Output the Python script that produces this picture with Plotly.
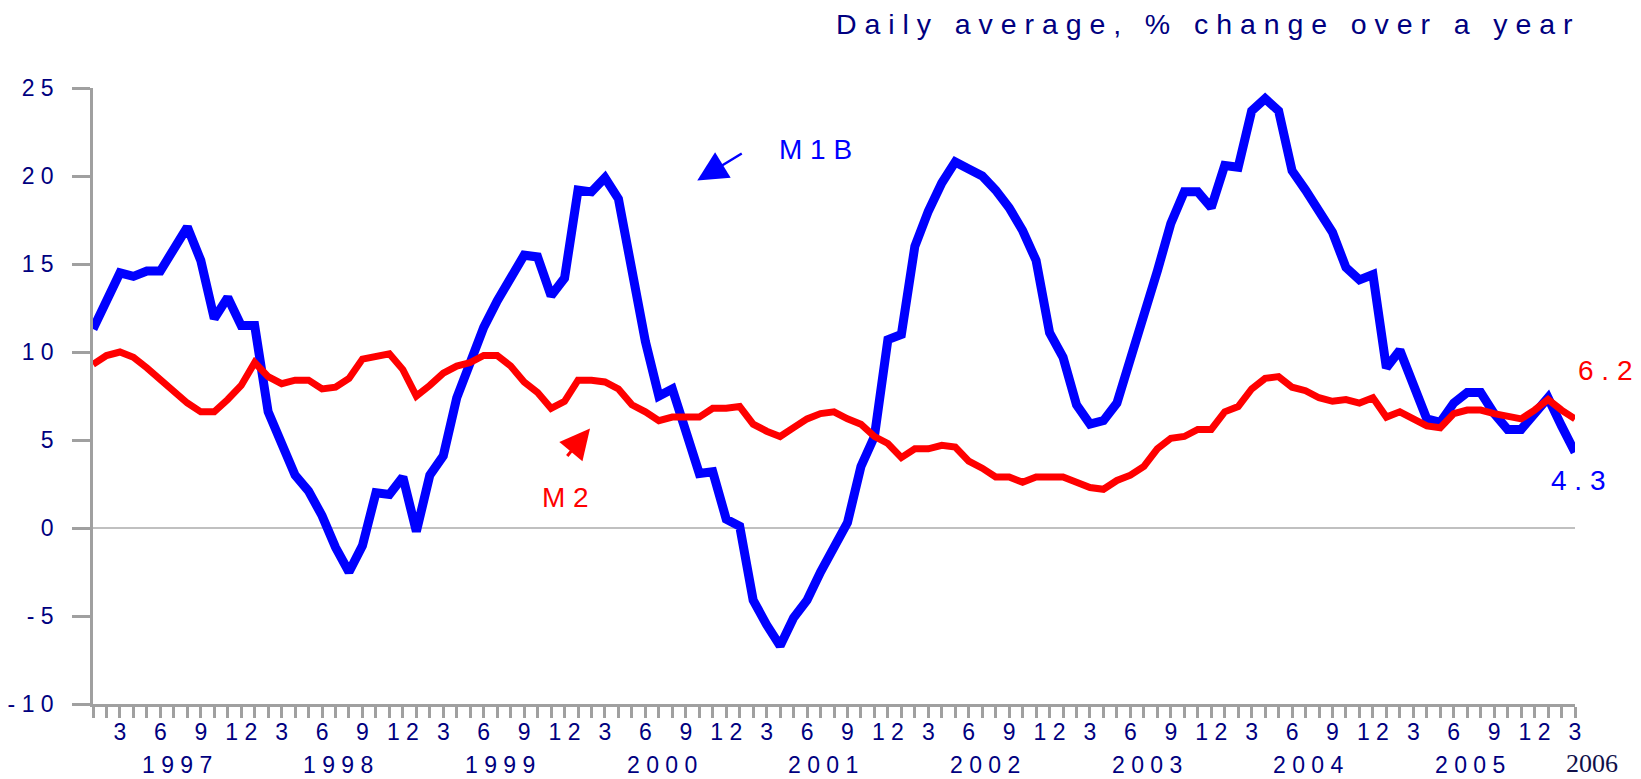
import plotly.graph_objects as go

NB = "\u00a0"


def spaced(s):
    return NB.join(NB if ch == " " else ch for ch in s)


# Monthly data, Jan 1997 .. Mar 2006 (index 0 = Jan 1997)
months = list(range(111))

m1b = [
    11.3, 12.9, 14.5, 14.3, 14.6, 14.6, 15.9, 17.1, 15.2, 11.9, 13.1, 11.5,   # 1997
    11.5, 6.6, 4.8, 3.0, 2.1, 0.7, -1.1, -2.5, -1.0, 2.0, 1.9, 2.9,           # 1998
    -0.2, 3.0, 4.1, 7.4, 9.4, 11.4, 12.9, 14.2, 15.5, 15.4, 13.2, 14.2,      # 1999
    19.2, 19.1, 19.9, 18.7, 14.4, 10.6, 7.5, 7.9, 5.5, 3.1, 3.2, 0.5,        # 2000
    0.1, -4.1, -5.5, -6.7, -5.1, -4.1, -2.5, -1.2, 0.3, 3.5, 5.2, 10.7,      # 2001
    11.0, 16.0, 18.0, 19.6, 20.8, 20.4, 20.0, 19.2, 18.2, 16.9, 15.2, 11.1,  # 2002
    9.7, 7.0, 5.9, 6.1, 7.1, 9.6, 12.0, 14.6, 17.3, 19.1, 19.1, 18.2,        # 2003
    20.6, 20.5, 23.7, 24.4, 23.7, 20.3, 19.2, 18.1, 16.8, 14.8, 14.1, 14.4,  # 2004
    9.1, 10.1, 8.1, 6.2, 6.0, 7.1, 7.7, 7.7, 6.5, 5.6, 5.6, 6.6,             # 2005
    7.4, 5.8, 4.3,                                                           # 2006
]

m2 = [
    9.3, 9.8, 10.0, 9.7, 9.1, 8.4, 7.7, 7.1, 6.6, 6.6, 7.3, 8.1,             # 1997
    9.4, 8.6, 8.2, 8.4, 8.4, 7.9, 8.0, 8.5, 9.6, 9.7, 9.9, 9.0,              # 1998
    7.5, 8.1, 8.8, 9.2, 9.4, 9.8, 9.8, 9.2, 8.3, 7.7, 6.8, 7.2,              # 1999
    8.4, 8.4, 8.3, 7.9, 7.0, 6.6, 6.1, 6.3, 6.3, 6.3, 6.8, 6.8,              # 2000
    6.9, 5.9, 5.5, 5.2, 5.7, 6.2, 6.5, 6.6, 6.2, 5.9, 5.2, 4.8,              # 2001
    4.0, 4.5, 4.5, 4.7, 4.6, 3.8, 3.4, 2.9, 2.9, 2.6, 2.9, 2.9,              # 2002
    2.9, 2.6, 2.3, 2.2, 2.7, 3.0, 3.5, 4.5, 5.1, 5.2, 5.6, 5.6,              # 2003
    6.6, 6.9, 7.9, 8.5, 8.6, 8.0, 7.8, 7.4, 7.2, 7.3, 7.1, 7.4,              # 2004
    6.3, 6.6, 6.2, 5.8, 5.7, 6.5, 6.7, 6.7, 6.5, 6.4, 6.2, 6.7,              # 2005
    7.3, 6.7, 6.2,                                                           # 2006
]

years = [1997, 1998, 1999, 2000, 2001, 2002, 2003, 2004, 2005]
month_tick_vals = [i for i in months if i % 3 == 2]
month_tick_text = [spaced(str(i % 12 + 1)) for i in month_tick_vals]
y_tick_vals = [-10, -5, 0, 5, 10, 15, 20, 25]
y_tick_text = [spaced(str(v)) for v in y_tick_vals]

NAVY = "#000080"
AXIS_GRAY = "#A0A0A0"
BLUE = "#0000FF"
RED = "#FF0000"
SANS = "Liberation Sans, Arial, sans-serif"

fig = go.Figure()
fig.add_trace(go.Scatter(x=months, y=m1b, mode="lines", name="M1B",
                         line=dict(color=BLUE, width=9), cliponaxis=False))
fig.add_trace(go.Scatter(x=months, y=m2, mode="lines", name="M2",
                         line=dict(color=RED, width=7), cliponaxis=False))

annotations = []
# year labels
for k, yr in enumerate(years):
    annotations.append(dict(x=12 * k + 6.2, y=-0.099, xref="x", yref="paper",
                            text=spaced(str(yr)), showarrow=False,
                            font=dict(family=SANS, size=23, color=NAVY),
                            xanchor="center", yanchor="middle"))
annotations.append(dict(x=1.0113, y=-0.0958, xref="paper", yref="paper", text="2006",
                        showarrow=False,
                        font=dict(family="Liberation Serif, Times New Roman, serif", size=26, color="#10104A"),
                        xanchor="center", yanchor="middle"))
# title
annotations.append(dict(x=1.0, y=1.104, xref="paper", yref="paper",
                        text=spaced("Daily average, % change over a year"),
                        showarrow=False, xanchor="right", yanchor="middle",
                        font=dict(family=SANS, size=28.5, color=NAVY)))
# series labels
annotations.append(dict(x=53.66, y=21.49, text=spaced("M1B"), showarrow=False,
                        font=dict(family=SANS, size=28, color=BLUE), xanchor="center", yanchor="middle"))
annotations.append(dict(x=35.1, y=1.73, text=spaced("M2"), showarrow=False,
                        font=dict(family=SANS, size=28, color=RED), xanchor="center", yanchor="middle"))
annotations.append(dict(x=1.0202, y=8.96, xref="paper", yref="y", text=spaced("6.2"), showarrow=False,
                        font=dict(family=SANS, size=28, color=RED), xanchor="center", yanchor="middle"))
annotations.append(dict(x=1.002, y=2.69, xref="paper", yref="y", text=spaced("4.3"), showarrow=False,
                        font=dict(family=SANS, size=28, color=BLUE), xanchor="center", yanchor="middle"))
# arrows
annotations.append(dict(x=44.85, y=19.74, text="", showarrow=True, ax=46, ay=-28,
                        arrowhead=2, arrowsize=2.4, arrowwidth=2.5, arrowcolor=BLUE))
annotations.append(dict(x=36.89, y=5.65, text="", showarrow=True, ax=-24, ay=29,
                        arrowhead=2, arrowsize=2.0, arrowwidth=3, arrowcolor=RED))

fig.update_layout(
    width=1641, height=779, autosize=False,
    margin=dict(l=93, r=66, t=88, b=75, pad=0, autoexpand=False),
    paper_bgcolor="white", plot_bgcolor="white",
    showlegend=False,
    annotations=annotations,
    font=dict(family=SANS, size=23, color=NAVY),
)
fig.update_xaxes(range=[0, 110], tickmode="array", tickvals=month_tick_vals, ticktext=month_tick_text,
                 ticks="outside", ticklen=11, tickwidth=2.5, tickcolor=AXIS_GRAY,
                 minor=dict(dtick=1, tick0=0, ticks="outside", ticklen=11, tickwidth=2.5, tickcolor=AXIS_GRAY),
                 showline=True, linecolor=AXIS_GRAY, linewidth=2.5, showgrid=False, zeroline=False,
                 ticklabelstandoff=-5, automargin=False,
                 tickfont=dict(family=SANS, size=23, color=NAVY), tickangle=0)
fig.update_yaxes(range=[-10, 25], tickmode="array", tickvals=y_tick_vals, ticktext=y_tick_text,
                 ticks="outside", ticklen=18, tickwidth=2.5, tickcolor=AXIS_GRAY,
                 showline=True, linecolor=AXIS_GRAY, linewidth=2.5, showgrid=False,
                 zeroline=True, zerolinecolor="#C0C0C0", zerolinewidth=2,
                 ticklabelstandoff=14, automargin=False,
                 tickfont=dict(family=SANS, size=23, color=NAVY))

# remove the default 8px page margin so the figure fills the window exactly
fig.write_html("out.html", config={"displayModeBar": False},
               post_script="document.body.style.margin='0';document.body.style.overflow='hidden';")
